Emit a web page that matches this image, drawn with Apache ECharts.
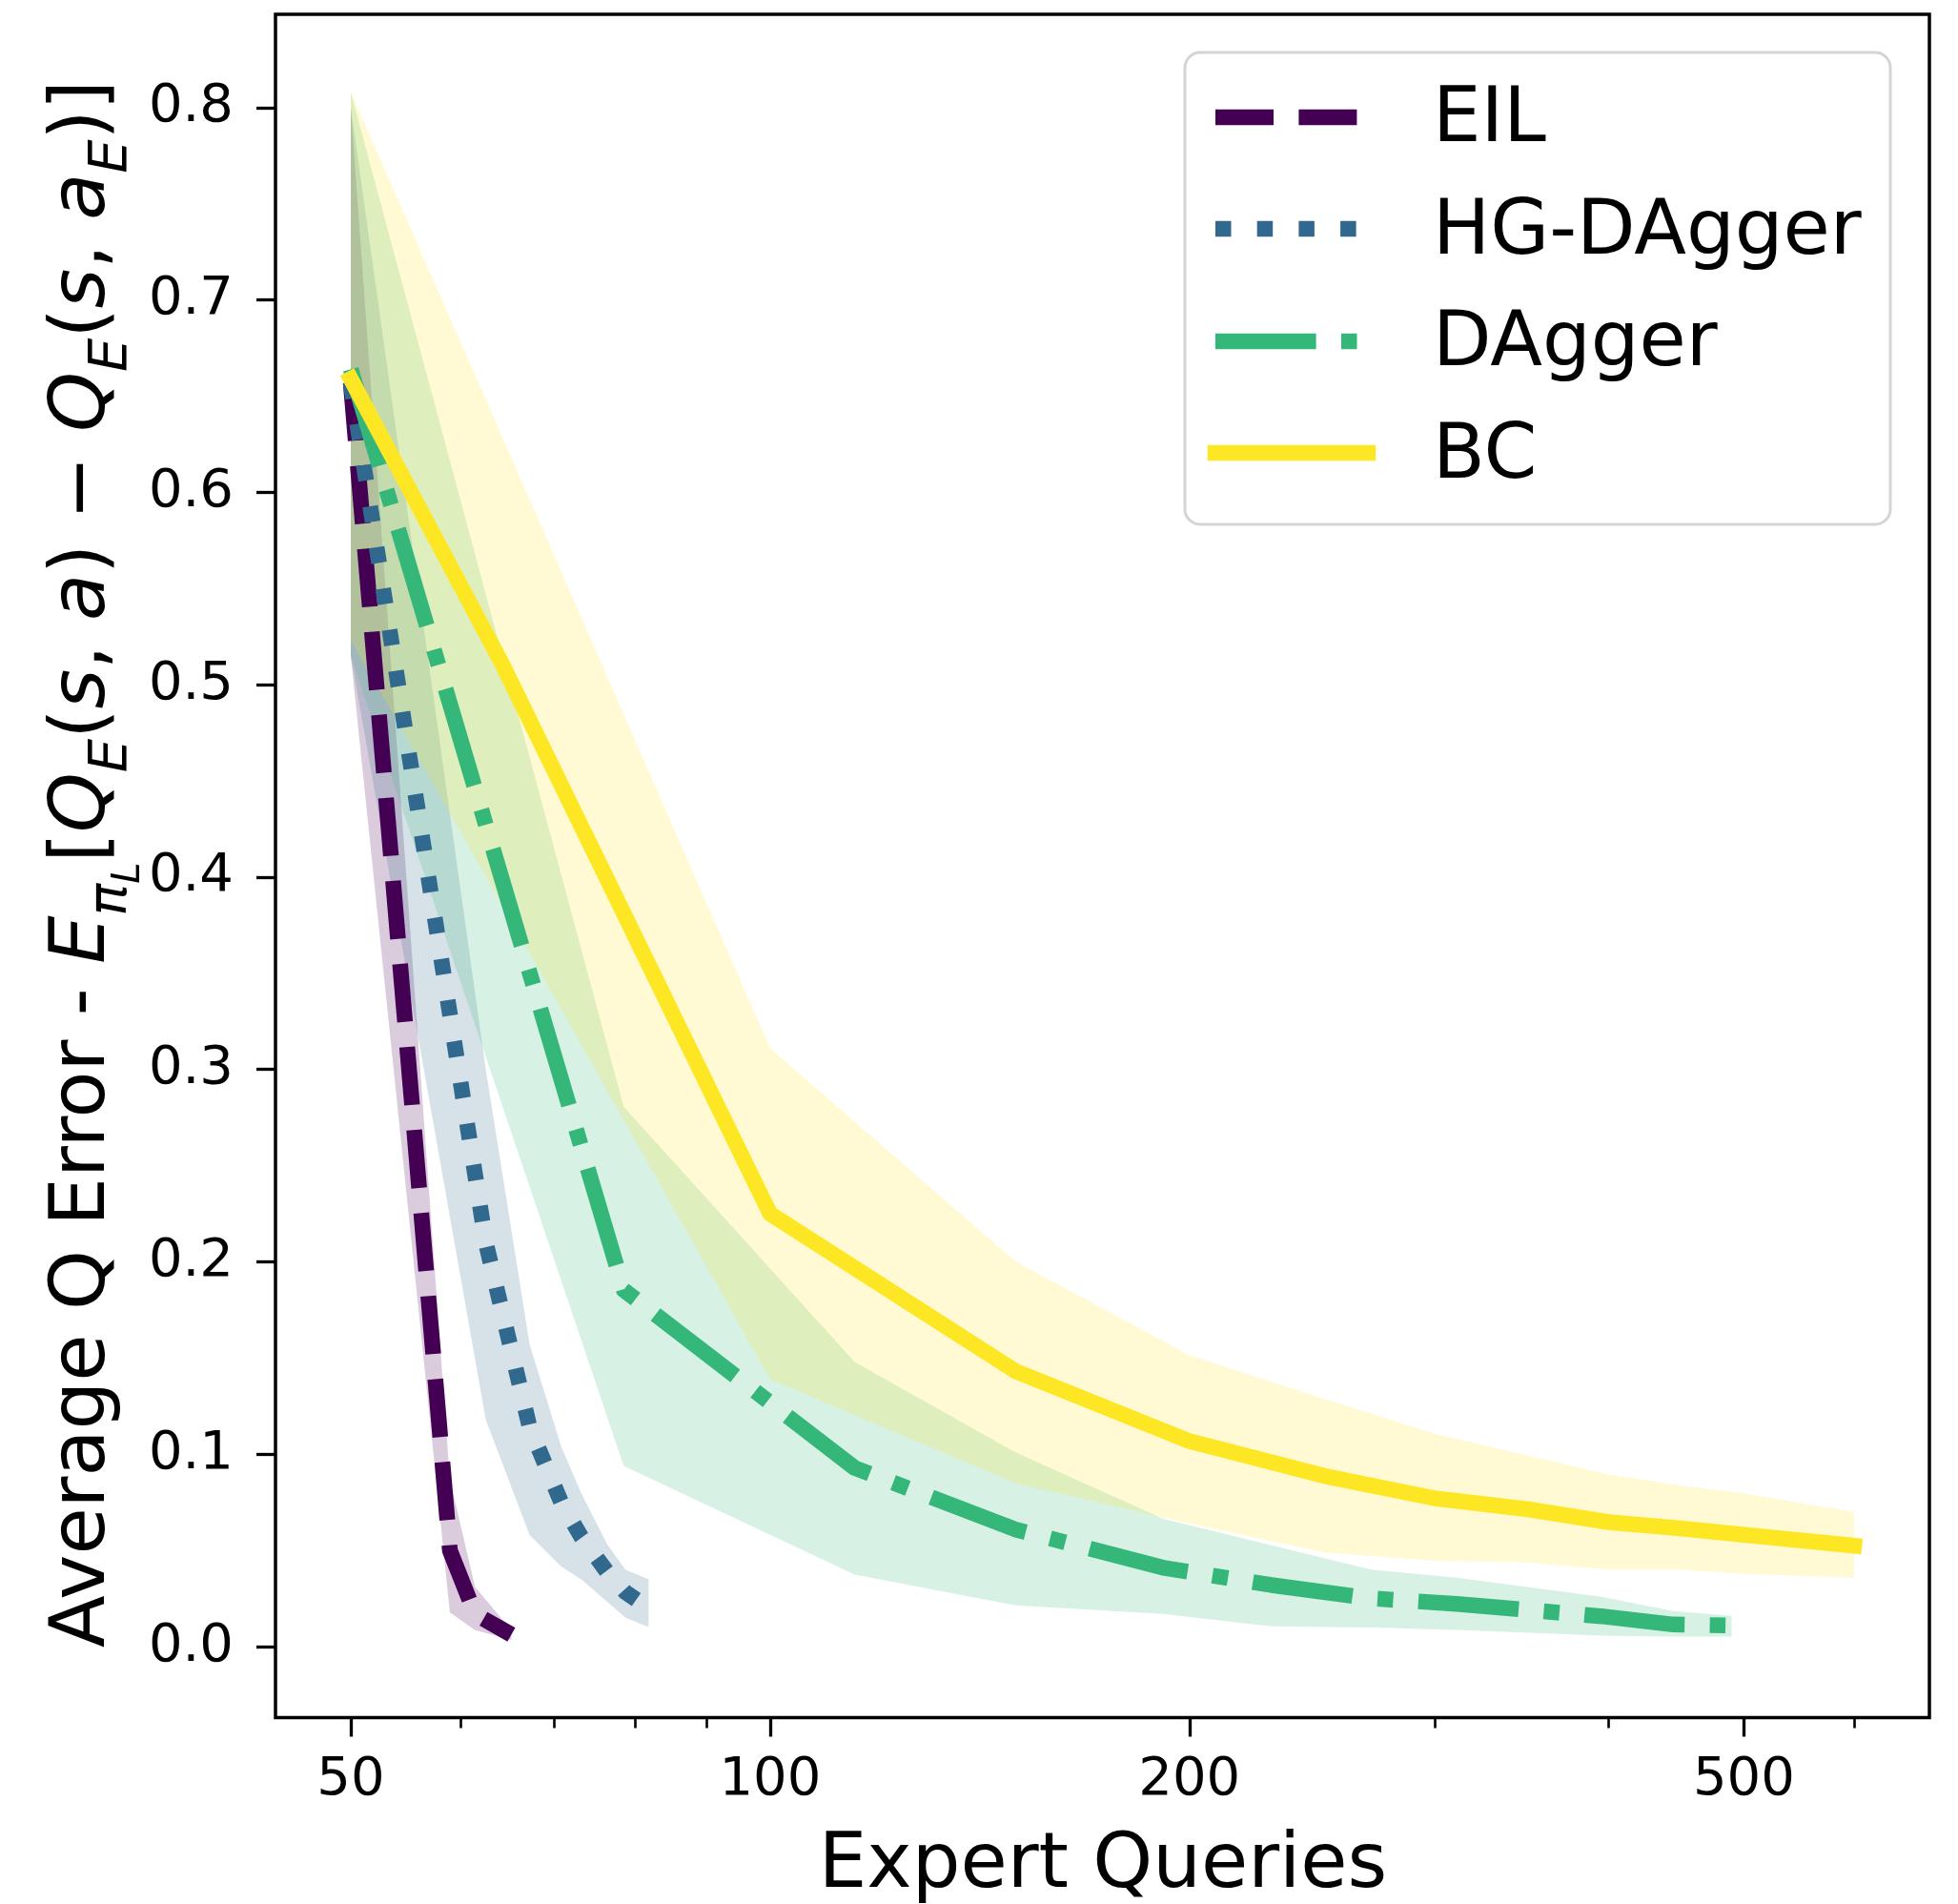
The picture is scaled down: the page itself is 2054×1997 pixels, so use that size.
<!DOCTYPE html>
<html>
<head>
<meta charset="utf-8">
<script src="https://cdn.jsdelivr.net/npm/echarts@6/dist/echarts.min.js"></script>
<style>
  html, body { margin: 0; padding: 0; background: #ffffff; }
  #chart { width: 2054px; height: 1997px; }
</style>
</head>
<body>
<div id="chart"></div>
<script>
// Expert queries (x) and average Q error: mean, lower and upper bound per method
const eilX    = [50, 58.9, 61.4, 65.2];
const eilMean = [0.657, 0.050, 0.017, 0.0062];
const eilLo   = [0.515, 0.0177, 0.0086, 0.0035];
const eilHi   = [0.800, 0.087, 0.031, 0.0086];

const hgX    = [50, 62.5, 67.2, 70.8, 73.2, 76.4, 78.7, 81.8];
const hgMean = [0.657, 0.210, 0.114, 0.075, 0.057, 0.0387, 0.0284, 0.020];
const hgLo   = [0.515, 0.118, 0.058, 0.0416, 0.035, 0.0233, 0.0152, 0.0102];
const hgHi   = [0.800, 0.300, 0.157, 0.104, 0.0796, 0.0532, 0.040, 0.035];

const dagX    = [50, 78.5, 115, 150, 191.5, 229, 270, 311, 395, 445, 490];
const dagMean = [0.664, 0.1854, 0.0929, 0.0609, 0.041, 0.032, 0.0251, 0.0222, 0.0158, 0.0115, 0.011];
const dagLo   = [0.515, 0.094, 0.0375, 0.0215, 0.017, 0.0106, 0.0099, 0.0087, 0.0057, 0.0052, 0.0052];
const dagHi   = [0.808, 0.2806, 0.148, 0.101, 0.0664, 0.0527, 0.040, 0.0358, 0.0259, 0.0185, 0.016];

const bcX    = [50, 64.3, 100, 150, 200, 250, 300, 350, 400, 450, 500, 600];
const bcMean = [0.659, 0.510, 0.225, 0.1432, 0.1068, 0.0887, 0.0771, 0.0714, 0.0647, 0.0615, 0.0581, 0.0525];
const bcLo   = [0.523, 0.385, 0.139, 0.085, 0.064, 0.049, 0.0446, 0.0437, 0.040, 0.040, 0.0378, 0.0358];
const bcHi   = [0.808, 0.628, 0.311, 0.2002, 0.1514, 0.1287, 0.1107, 0.0993, 0.0895, 0.0838, 0.0796, 0.070];

// Axis ticks
const xMajorTicks = [50, 100, 200, 500];
const xMinorTicks = [60, 70, 80, 90, 300, 400, 600];
const yTicks = [0.0, 0.1, 0.2, 0.3, 0.4, 0.5, 0.6, 0.7, 0.8];

// Legend entries
const names = ['EIL', 'HG-DAgger', 'DAgger', 'BC'];

// ---- styling ----
const FONT = '"DejaVu Sans", "Liberation Sans", sans-serif';
const COLORS = ['#440154', '#31688e', '#35b779', '#fde725'];
const LW = 16.5;
const DASHES = [
  [61, 26.4],                 // dashed
  [16.5, 27.2],               // dotted
  [105.6, 26.4, 16.5, 26.4],  // dash-dot
  'solid'
];
const CAPS = ['butt', 'butt', 'butt', 'square'];

const X_MIN = 44.15, X_MAX = 679.5;
const Y_MIN = -0.0369, Y_MAX = 0.8485;

function rgba(hex, a) {
  const n = parseInt(hex.slice(1), 16);
  return 'rgba(' + ((n >> 16) & 255) + ',' + ((n >> 8) & 255) + ',' + (n & 255) + ',' + a + ')';
}

function bandSeries(xs, lo, hi, color) {
  return {
    type: 'custom',
    xAxisIndex: 0, yAxisIndex: 0,
    z: 1, silent: true, clip: true,
    data: xs.map((x, i) => [x, lo[i], hi[i]]),
    encode: { x: 0, y: [1, 2] },
    renderItem: function (params, api) {
      if (params.dataIndex !== 0) return null;
      const pts = [];
      for (let i = 0; i < xs.length; i++) pts.push(api.coord([xs[i], hi[i]]));
      for (let i = xs.length - 1; i >= 0; i--) pts.push(api.coord([xs[i], lo[i]]));
      return { type: 'polygon', shape: { points: pts }, style: { fill: rgba(color, 0.2) } };
    }
  };
}

function lineSeries(name, xs, ys, k) {
  return {
    type: 'line', name: name,
    xAxisIndex: 0, yAxisIndex: 0,
    z: 2 + k, silent: true, clip: true,
    showSymbol: false, symbol: 'none',
    data: xs.map((x, i) => [x, ys[i]]),
    lineStyle: { color: COLORS[k], width: LW, type: DASHES[k], cap: CAPS[k], join: 'round' }
  };
}

const bands = [
  bandSeries(eilX, eilLo, eilHi, COLORS[0]),
  bandSeries(hgX, hgLo, hgHi, COLORS[1]),
  bandSeries(dagX, dagLo, dagHi, COLORS[2]),
  bandSeries(bcX, bcLo, bcHi, COLORS[3])
];
const lines = [
  lineSeries(names[0], eilX, eilMean, 0),
  lineSeries(names[1], hgX, hgMean, 1),
  lineSeries(names[2], dagX, dagMean, 2),
  lineSeries(names[3], bcX, bcMean, 3)
];

// Legend box drawn as graphic elements
const legendLeft = 1243, legendTop = 55, legendW = 740, legendH = 495;
const handleY = [123, 240, 358, 475];
const labelY = [127, 245, 362, 480];
const legendItems = [{
  type: 'rect', z: 100,
  shape: { x: legendLeft, y: legendTop, width: legendW, height: legendH, r: 16 },
  style: { fill: 'rgba(255,255,255,0.8)', stroke: 'rgba(204,204,204,0.85)', lineWidth: 3 }
}];
names.forEach((nm, k) => {
  legendItems.push({
    type: 'line', z: 101,
    shape: { x1: 1275, y1: handleY[k], x2: 1435, y2: handleY[k] },
    style: {
      stroke: COLORS[k], lineWidth: LW,
      lineDash: DASHES[k] === 'solid' ? null : DASHES[k],
      lineCap: CAPS[k]
    }
  });
  legendItems.push({
    type: 'text', z: 101, x: 1503, y: labelY[k],
    style: { text: nm, fontFamily: FONT, fontSize: 80, fill: '#000', align: 'left', verticalAlign: 'middle' }
  });
});

// Y axis title with math-style parts
const yTitle =
  '{n|Average Q Error - }{i|E}{s|π}{ss|L}{n|[}{i|Q}{s|E}{n|(}{i|s}{n|, }{i|a}{n|) − }' +
  '{i|Q}{s|E}{n|(}{i|s}{n|, }{i|a}{s|E}{n|)]}';
const richBase = { fontFamily: FONT, fill: '#000', color: '#000' };
const yTitleRich = {
  n:  Object.assign({}, richBase, { fontSize: 80, lineHeight: 100 }),
  i:  Object.assign({}, richBase, { fontSize: 80, lineHeight: 100, fontStyle: 'italic' }),
  s:  Object.assign({}, richBase, { fontSize: 56, lineHeight: 56, fontStyle: 'italic', padding: [58, 0, 0, 0] }),
  ss: Object.assign({}, richBase, { fontSize: 40, lineHeight: 40, fontStyle: 'italic', padding: [96, 0, 0, 0] })
};

const titles = [
  {
    type: 'text', z: 50, x: 88, y: 906, rotation: Math.PI / 2,
    style: { text: yTitle, rich: yTitleRich, fontFamily: FONT, fontSize: 80, fill: '#000', align: 'center', verticalAlign: 'middle' }
  },
  {
    type: 'text', z: 50, x: 1157, y: 1958,
    style: { text: 'Expert Queries', fontFamily: FONT, fontSize: 80, fill: '#000', align: 'center', verticalAlign: 'middle' }
  }
];

const chart = echarts.init(document.getElementById('chart'), null, { renderer: 'canvas' });
chart.setOption({
  animation: false,
  backgroundColor: '#ffffff',
  grid: {
    left: 289, right: 30, top: 15, bottom: 195.5,
    show: true, borderColor: '#000', borderWidth: 3.5, backgroundColor: 'transparent'
  },
  xAxis: [
    {
      type: 'log', logBase: 10, min: X_MIN, max: X_MAX, position: 'bottom',
      axisLine: { show: false, onZero: false },
      splitLine: { show: false },
      axisTick: { show: true, customValues: xMajorTicks, length: 20, lineStyle: { color: '#000', width: 3.3 } },
      axisLabel: {
        show: true, customValues: xMajorTicks, margin: 38,
        fontFamily: FONT, fontSize: 56, color: '#000',
        formatter: v => String(Math.round(v))
      }
    },
    {
      type: 'log', logBase: 10, min: X_MIN, max: X_MAX, position: 'bottom',
      axisLine: { show: false, onZero: false },
      splitLine: { show: false },
      axisTick: { show: true, customValues: xMinorTicks, length: 11, lineStyle: { color: '#000', width: 2.6 } },
      axisLabel: { show: false }
    }
  ],
  yAxis: {
    type: 'value', min: Y_MIN, max: Y_MAX,
    axisLine: { show: false, onZero: false },
    splitLine: { show: false },
    axisTick: { show: true, customValues: yTicks, length: 20, lineStyle: { color: '#000', width: 3.3 } },
    axisLabel: {
      show: true, customValues: yTicks, margin: 44,
      fontFamily: FONT, fontSize: 56, color: '#000',
      formatter: v => Number(v).toFixed(1)
    }
  },
  series: bands.concat(lines),
  graphic: legendItems.concat(titles)
});
</script>
</body>
</html>
